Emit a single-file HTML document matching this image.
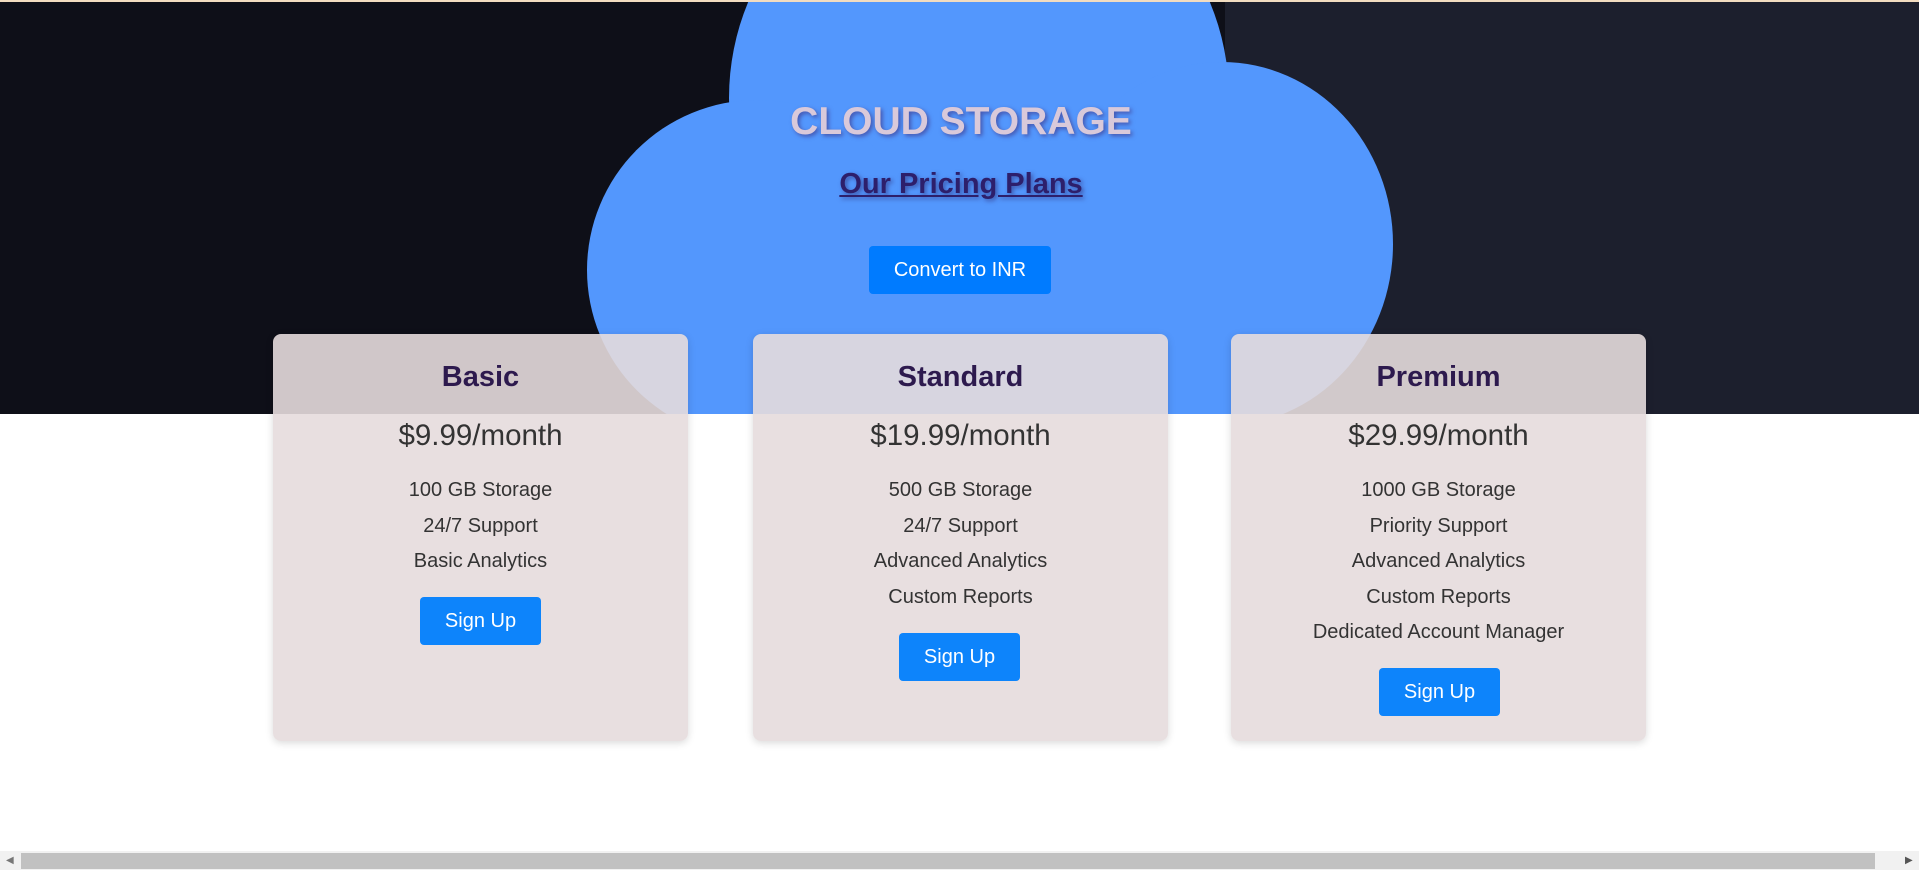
<!DOCTYPE html>
<html><head><meta charset="utf-8"><style>
*{margin:0;padding:0;box-sizing:border-box}
body{width:1919px;height:870px;overflow:hidden;background:#fff;font-family:"Liberation Sans",Arial,sans-serif;position:relative}
.abs{position:absolute}
.card{position:absolute;top:334px;width:415px;height:407px;background:rgba(230,220,221,0.9);border-radius:8px;box-shadow:0 2px 8px rgba(0,0,0,0.15);text-align:center;color:#333}
.card h2{position:absolute;top:0;left:0;right:0;line-height:0;margin-top:43px;font-size:29px;color:#2d1a4e;font-weight:bold}
.card .price{position:absolute;left:0;right:0;top:102px;line-height:0;font-size:29.5px;color:#333}
.card .f{position:absolute;left:0;right:0;line-height:0;font-size:20px;color:#333}
.btn{position:absolute;background:#0d84fb;color:#fff;border-radius:4px;font-size:20px;display:flex;align-items:center;justify-content:center}
</style></head><body>
<div class="abs" style="left:0;top:0;width:1919px;height:2px;background:#f2dcc0"></div>
<svg class="abs" style="left:0;top:2px" width="1919" height="412">
<rect x="0" y="0" width="1919" height="412" fill="#0e0f18"/>
<rect x="1225" y="0" width="694" height="412" fill="#1c1f2d"/>
<g fill="#5397fd">
<circle cx="979" cy="96" r="250"/>
<circle cx="757" cy="268" r="170"/>
<ellipse cx="1222" cy="242" rx="171" ry="182"/>
<rect x="757" y="150" width="465" height="262"/>
</g>
</svg>
<div class="abs" style="top:122px;left:961px;line-height:0;transform:translateX(-50%)">
<span style="font-size:39px;font-weight:bold;color:#d9c9da;text-shadow:2px 2px 4px rgba(60,40,120,0.6);white-space:nowrap">CLOUD STORAGE</span></div>
<div class="abs" style="top:184px;left:961px;line-height:0;transform:translateX(-50%)">
<span style="font-size:29px;font-weight:bold;color:#2d1f6b;text-decoration:underline;text-shadow:2px 2px 4px rgba(40,20,90,0.5);white-space:nowrap">Our Pricing Plans</span></div>
<div class="btn" style="left:869px;top:246px;width:182px;height:48px;background:#007bff">Convert to INR</div>

<div class="card" style="left:273px">
<h2>Basic</h2><div class="price">$9.99/month</div>
<div class="f" style="top:156px">100 GB Storage</div>
<div class="f" style="top:192px">24/7 Support</div>
<div class="f" style="top:227px">Basic Analytics</div>
<div class="btn" style="left:147px;top:263px;width:121px;height:48px">Sign Up</div>
</div>
<div class="card" style="left:753px">
<h2>Standard</h2><div class="price">$19.99/month</div>
<div class="f" style="top:156px">500 GB Storage</div>
<div class="f" style="top:192px">24/7 Support</div>
<div class="f" style="top:227px">Advanced Analytics</div>
<div class="f" style="top:263px">Custom Reports</div>
<div class="btn" style="left:146px;top:299px;width:121px;height:48px">Sign Up</div>
</div>
<div class="card" style="left:1231px">
<h2>Premium</h2><div class="price">$29.99/month</div>
<div class="f" style="top:156px">1000 GB Storage</div>
<div class="f" style="top:192px">Priority Support</div>
<div class="f" style="top:227px">Advanced Analytics</div>
<div class="f" style="top:263px">Custom Reports</div>
<div class="f" style="top:298px">Dedicated Account Manager</div>
<div class="btn" style="left:148px;top:334px;width:121px;height:48px">Sign Up</div>
</div>

<div class="abs" style="left:0;top:851px;width:1919px;height:19px;background:#f1f1f1"></div>
<div class="abs" style="left:21px;top:853px;width:1854px;height:16px;background:#c1c1c1"></div>
<div class="abs" style="left:6px;top:855px;font-size:10px;color:#777">◀</div>
<div class="abs" style="left:1905px;top:855px;font-size:10px;color:#555">▶</div>
</body></html>
